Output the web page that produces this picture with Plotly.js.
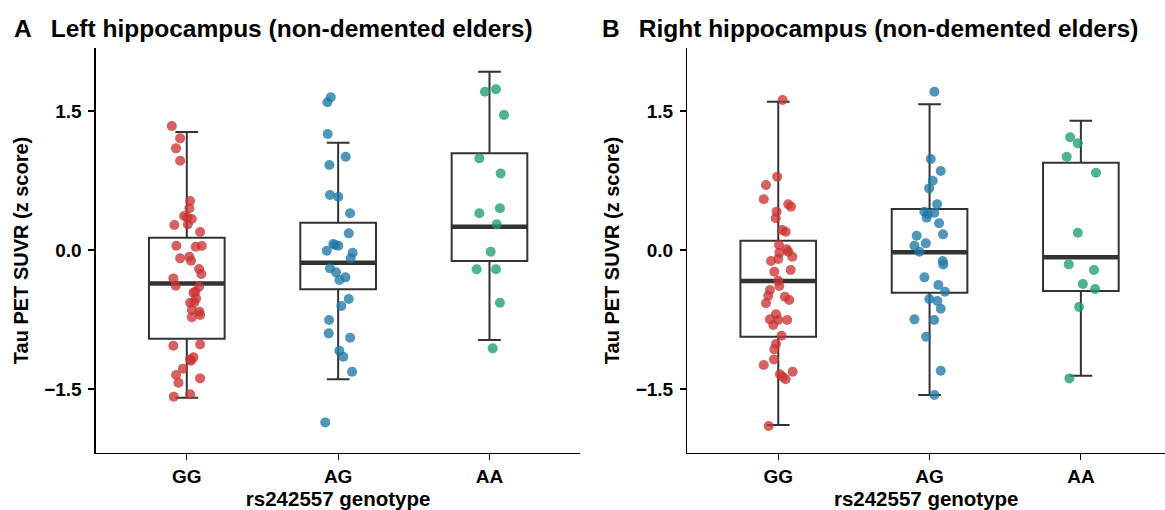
<!DOCTYPE html>
<html>
<head>
<meta charset="utf-8">
<script src="https://cdn.plot.ly/plotly-3.0.1.min.js"></script>
<style>html,body{margin:0;padding:0;background:#fff;overflow:hidden}</style>
</head>
<body>
<div id="chart" style="width:1165px;height:510px"></div>
<script>
// ---- categories ----
const genotypes = ["GG", "AG", "AA"];
const yTickVals = [-1.5, 0, 1.5];
const yTickText = ["\u22121.5", "0.0", "1.5"];

// ---- Panel A: left hippocampus, jittered observations ----
const leftGG_y = [1.338,1.205,1.097,0.964,0.529,0.45,0.367,0.335,0.353,0.27,0.277,0.194,0.047,0.036,0.043,-0.09,-0.072,-0.115,-0.205,-0.259,-0.306,-0.385,-0.396,-0.45,-0.461,-0.522,-0.565,-0.568,-0.647,-0.665,-0.701,-0.726,-1.032,-1.018,-1.158,-1.18,-1.194,-1.28,-1.349,-1.432,-1.385,-1.583,-1.557];
const leftGG_jit = [-0.099,-0.044,-0.071,-0.044,0.022,0.017,-0.018,0.033,0.004,-0.082,0.007,0.088,-0.069,0.059,0.099,-0.044,0.017,0.028,0.081,0.096,-0.089,-0.073,0.081,0.057,0.044,0.061,0.05,0.022,0.033,0.083,0.088,0.033,-0.089,0.088,0.044,0.022,0.028,-0.026,-0.071,-0.055,0.088,-0.086,0.022];
const leftAG_y = [1.648,1.594,1.252,1.007,0.917,0.594,0.575,0.396,0.18,0.065,0.047,0.054,-0.007,-0.029,-0.09,-0.198,-0.241,-0.295,-0.324,-0.529,-0.604,-0.755,-0.899,-0.946,-1.086,-1.151,-1.313,-1.86];
const leftAG_jit = [-0.049,-0.071,-0.069,0.05,-0.058,-0.054,0.001,0.079,0.07,-0.032,0.001,-0.02,-0.075,0.096,0.083,-0.054,-0.014,0.048,0.008,0.07,0.021,-0.06,-0.062,0.079,0.008,0.034,0.092,-0.085];
const leftAA_y = [1.734,1.708,1.457,0.989,0.827,0.45,0.396,0.277,-0.018,-0.208,-0.208,-0.568,-1.061];
const leftAA_jit = [0.043,-0.03,0.096,-0.067,0.074,0.069,-0.067,0.048,0.008,-0.085,0.043,0.069,0.021];

// ---- Panel A box statistics (GG, AG, AA) ----
const leftQ1 = [-0.957, -0.424, -0.119];
const leftMedian = [-0.36, -0.137, 0.252];
const leftQ3 = [0.133, 0.295, 1.043];
const leftLower = [-1.594, -1.395, -0.971];
const leftUpper = [1.273, 1.158, 1.924];

// ---- Panel B: right hippocampus, jittered observations ----
const rightGG_y = [1.619,0.791,0.701,0.547,0.493,0.468,0.414,0.342,0.216,0.198,0.054,0.007,-0.018,-0.029,-0.072,-0.097,-0.119,-0.216,-0.234,-0.331,-0.388,-0.432,-0.493,-0.575,-0.504,-0.54,-0.694,-0.748,-0.755,-0.809,-0.755,-0.925,-1.014,-1.072,-1.18,-1.241,-1.341,-1.313,-1.395,-1.367,-1.899];
const rightGG_jit = [0.029,-0.007,-0.081,-0.096,0.066,0.084,-0.011,-0.017,0.026,0.049,0.005,0.056,0.066,0.007,0.093,0,-0.048,0.082,-0.026,0,0.007,-0.055,-0.066,-0.081,0.044,0.073,-0.015,-0.055,0,-0.033,0.059,0.022,-0.015,-0.026,-0.028,-0.096,0.011,0.095,0.049,0.029,-0.063];
const rightAG_y = [1.708,0.982,0.852,0.748,0.665,0.493,0.414,0.403,0.389,0.349,0.288,0.169,0.155,0.072,0.047,-0.018,-0.119,-0.155,-0.295,-0.378,-0.45,-0.529,-0.55,-0.633,-0.748,-0.755,-0.935,-1.302,-1.565];
const rightAG_jit = [0.032,0.008,0.074,0.021,-0.003,0.05,-0.034,0.032,-0.012,-0.019,0.063,0.089,-0.085,-0.025,-0.1,-0.067,0.087,0.091,-0.034,0.058,0.102,-0.001,0.052,0.074,-0.1,0.03,-0.023,0.074,0.032];
const rightAA_y = [1.216,1.151,1.007,0.834,0.187,-0.155,-0.216,-0.367,-0.421,-0.615,-1.385];
const rightAA_jit = [-0.071,-0.02,-0.093,0.1,-0.02,-0.08,0.087,0.013,0.094,-0.012,-0.076];

// ---- Panel B box statistics (GG, AG, AA) ----
const rightQ1 = [-0.935, -0.46, -0.442];
const rightMedian = [-0.335, -0.025, -0.079];
const rightQ3 = [0.101, 0.442, 0.942];
const rightLower = [-1.888, -1.565, -1.356];
const rightUpper = [1.6, 1.572, 1.395];

// ---- styling ----
const groupColors = ["#CC3333", "#1F78A8", "#1E9E6E"];
const lineColor = "#333333";
const FONT = "Liberation Sans, Arial, Helvetica, sans-serif";
const BOX_W = 0.5;

function boxTrace(q1, med, q3, lo, hi, xa, ya) {
  return {
    type: "box", x: [0, 1, 2], q1: q1, median: med, q3: q3,
    lowerfence: lo, upperfence: hi, width: BOX_W, whiskerwidth: 0.3,
    boxpoints: false, fillcolor: "rgba(255,255,255,0)",
    line: {color: lineColor, width: 2}, xaxis: xa, yaxis: ya,
    showlegend: false, hoverinfo: "skip"
  };
}
function medianTrace(med, xa, ya) {
  const x = [], y = [];
  med.forEach((m, i) => { x.push(i - BOX_W / 2, i + BOX_W / 2, null); y.push(m, m, null); });
  return {type: "scatter", mode: "lines", x: x, y: y, xaxis: xa, yaxis: ya,
    line: {color: lineColor, width: 4.5}, showlegend: false, hoverinfo: "skip"};
}
function pointTrace(idx, ys, jit, xa, ya) {
  return {type: "scatter", mode: "markers", x: ys.map((_, k) => idx + jit[k]), y: ys,
    xaxis: xa, yaxis: ya, marker: {color: groupColors[idx], size: 10, opacity: 0.78, line: {width: 0}},
    showlegend: false, hoverinfo: "skip"};
}

const data = [
  boxTrace(leftQ1, leftMedian, leftQ3, leftLower, leftUpper, "x", "y"),
  medianTrace(leftMedian, "x", "y"),
  pointTrace(0, leftGG_y, leftGG_jit, "x", "y"),
  pointTrace(1, leftAG_y, leftAG_jit, "x", "y"),
  pointTrace(2, leftAA_y, leftAA_jit, "x", "y"),
  boxTrace(rightQ1, rightMedian, rightQ3, rightLower, rightUpper, "x2", "y2"),
  medianTrace(rightMedian, "x2", "y2"),
  pointTrace(0, rightGG_y, rightGG_jit, "x2", "y2"),
  pointTrace(1, rightAG_y, rightAG_jit, "x2", "y2"),
  pointTrace(2, rightAA_y, rightAA_jit, "x2", "y2")
];

const tickFont = {family: FONT, size: 19, color: "#000", weight: 700};
const axTitleFont = {family: FONT, size: 20, color: "#000", weight: 700};
function xAxis(domain, range, anchor) {
  return {domain: domain, range: range, anchor: anchor, tickmode: "array",
    tickvals: [0, 1, 2], ticktext: genotypes, showgrid: false, zeroline: false,
    showline: true, linecolor: "#000", linewidth: 1.5, ticks: "outside", ticklen: 6,
    tickwidth: 1.2, tickcolor: "#000", tickfont: tickFont,
    title: {text: "rs242557 genotype", font: {family: FONT, size: 20.5, color: "#000", weight: 700}, standoff: 4}};
}
function yAxis(anchor) {
  return {domain: [0.1118, 0.9059], range: [-2.19, 2.18], anchor: anchor,
    tickmode: "array", tickvals: yTickVals, ticktext: yTickText, showgrid: false,
    zeroline: false, showline: true, linecolor: "#000", linewidth: 1.5,
    ticks: "outside", ticklen: 6, tickwidth: 1.2, tickcolor: "#000", tickfont: tickFont,
    ticklabelstandoff: 3,
    title: {text: "Tau PET SUVR (z score)", font: axTitleFont, standoff: 10}};
}

const layout = {
  width: 1165, height: 510, margin: {l: 0, r: 0, t: 0, b: 0},
  paper_bgcolor: "#fff", plot_bgcolor: "#fff", showlegend: false,
  xaxis: xAxis([0.0824, 0.4981], [-0.6, 2.6], "y"),
  yaxis: yAxis("x"),
  xaxis2: xAxis([0.5901, 1], [-0.6, 2.556], "y2"),
  yaxis2: yAxis("x2"),
  annotations: [
    {text: "A\u2002 Left hippocampus (non-demented elders)", xref: "paper", yref: "paper",
     x: 12 / 1165, y: 1 - 28 / 510, xanchor: "left", yanchor: "middle", showarrow: false,
     font: {family: FONT, size: 24.5, color: "#000", weight: 700}},
    {text: "B\u2002 Right hippocampus (non-demented elders)", xref: "paper", yref: "paper",
     x: 600 / 1165, y: 1 - 28 / 510, xanchor: "left", yanchor: "middle", showarrow: false,
     font: {family: FONT, size: 24.5, color: "#000", weight: 700}}
  ]
};

Plotly.newPlot("chart", data, layout, {staticPlot: true, displayModeBar: false});
</script>
</body>
</html>
